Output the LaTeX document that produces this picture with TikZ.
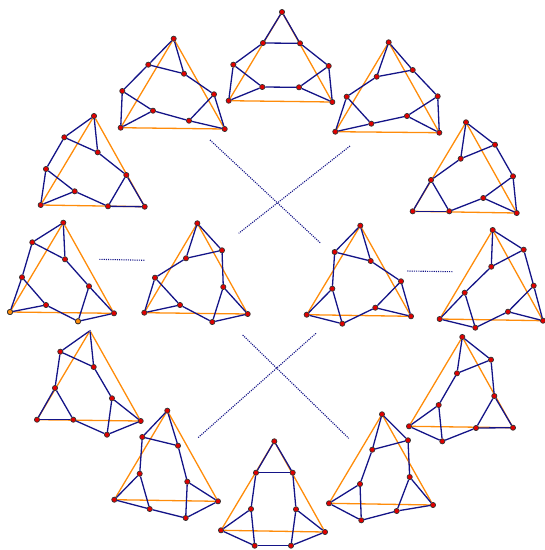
\documentclass[tikz,border=0pt]{standalone}
\usepackage{tikz}
\usetikzlibrary{backgrounds}
\usepackage{xcolor}
\definecolor{edgeblue}{RGB}{20,20,135}
\definecolor{triorange}{RGB}{255,140,10}
\definecolor{dotred}{RGB}{225,0,0}
\tikzset{
  vertex/.style={circle, draw=black!80, fill=dotred, line width=0.7pt, inner sep=0pt, minimum size=5.2pt},
  vertexorange/.style={vertex, fill=triorange},
  vertexbare/.style={circle, fill=edgeblue, inner sep=0pt, minimum size=1.5pt},
  edge/.style={edgeblue, line width=1.3pt},
  tri/.style={triorange, line width=1.3pt},
  link/.style={edgeblue, line width=1.1pt, dash pattern=on 1.1pt off 1.1pt},
}
% #1 apex style, #2 prefix, #3 apex, #4 the other eight vertices
\newcommand{\drawgraph}[4][vertex]{%
  \node[#1] (#2t) at (#3) {};
  \foreach \v/\x/\y in {#4}
    \node[vertex] (#2\v) at (\x,\y) {};
  \begin{scope}[on background layer]
  \foreach \a/\b in {t/l, t/r, l/r}
    \draw[tri] (#2\a) -- (#2\b);
  \foreach \a/\b in {t/a, t/b, a/b, a/c, b/d, c/l, c/e, l/e, e/f, f/d, f/r, d/r}
    \draw[edge] (#2\a) -- (#2\b);
  \end{scope}
}
\begin{document}
\begin{tikzpicture}[x=1pt, y=-1pt]
\useasboundingbox (0,0) rectangle (545,550);
% outer ring, clockwise from the top
\drawgraph{top}{282,12}{a/263/43, b/300/43.3, c/233.3/64.7, d/328.7/66, l/228.7/100.7, e/262.3/87, f/299/87.3, r/332.3/102}
\drawgraph{tr}{388.7,42.3}{a/376.7/76.7, b/412.7/70, c/346.7/96.7, d/437.7/96.3, l/335.3/131.7, e/371.3/123.7, f/407/116, r/439.3/132.7}
\drawgraph{ru}{466,122.3}{a/460.7/158.7, b/495/144.7, c/431/180, d/513/176.3, l/412.7/211.3, e/449.3/211.3, f/483.3/198, r/516.7/213}
\drawgraph{rm}{492.7,230}{a/491.3/266.7, b/523.7/249.7, c/464.7/292.7, d/533.7/285.7, l/439.7/319, e/475.3/327.7, f/508/311.7, r/543/320.7}
\drawgraph{rl}{462.3,337}{a/457/373.3, b/491/359.7, c/438.7/405, d/494.3/396, l/409/426.3, e/442.3/441.3, f/476/428, r/513/427.7}
\drawgraph{br}{382,414.3}{a/372.3/449.7, b/408/440.3, c/360/484, d/409.7/477, l/329/503.3, e/361.3/520.3, f/396.7/511, r/433/505}
\drawgraph{bot}{274.3,441.3}{a/256/472.7, b/292.7/472.7, c/251/509, d/296/509.3, l/221/530.3, e/254.7/545.7, f/291/545.7, r/325/532}
\drawgraph{bl}{167.3,410.7}{a/142.3/437, b/178/445.7, c/139.7/473.7, d/187.3/481.7, l/114.3/499.7, e/149.7/509, f/185.7/518, r/218/501.3}
\drawgraph[vertexbare]{ll}{90,330.7}{a/60.3/351.7, b/93.7/367, c/55/388, d/112/398.3, l/37/419.7, e/73.3/419.7, f/107/434.7, r/140.7/421}
\drawgraph{lm}{63.3,222.7}{a/32.3/242.3, b/65/259.3, c/22/277.3, d/89/286.3, l/10/312, e/46/305, f/78/321.3, r/114/313.3}
\node[vertexorange] (lmlo) at (lml) {};
\node[vertexorange] (lmfo) at (lmf) {};
\drawgraph{lu}{94,116}{a/64.3/137.3, b/97.7/152.3, c/46/169, d/126.3/175, l/40.7/205, e/74.7/191.3, f/108/206.3, r/144.7/206.7}
\drawgraph{tl}{173.7,38.7}{a/148.3/64.7, b/184/73.7, c/122.3/91, d/214/94.3, l/120.7/127.7, e/153/110.7, f/189/120.7, r/224.7/129}
% inner pair
\drawgraph{il}{197.3,223.3}{a/186/258.3, b/222/250.3, c/155/277.7, d/223.3/287, l/144.3/312.7, e/180/305, f/212.3/322, r/247.7/314}
\drawgraph{ir}{360.3,225.7}{a/334.7/252, b/370.7/261, c/332.3/288.7, d/401/281.3, l/306.7/314.7, e/342.3/323.7, f/375.3/307.7, r/411/316.3}
% dotted links
\coordinate (p1) at (99.3,259.3);
\coordinate (p2) at (145.3,260.3);
\coordinate (p3) at (407.3,271);
\coordinate (p4) at (452.7,271.7);
\coordinate (p5) at (210,140);
\coordinate (p6) at (320.7,243.3);
\coordinate (p7) at (350,146);
\coordinate (p8) at (238.7,233.3);
\coordinate (p9) at (242.7,335);
\coordinate (p10) at (348.7,438.3);
\coordinate (p11) at (316,333.3);
\coordinate (p12) at (198,437.7);
\foreach \a/\b in {p1/p2, p3/p4, p5/p6, p7/p8, p9/p10, p11/p12}
  \draw[link] (\a) -- (\b);
\end{tikzpicture}
\end{document}
